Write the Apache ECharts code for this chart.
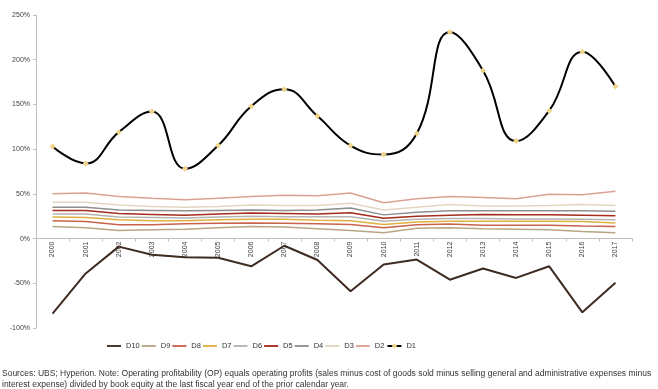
<!DOCTYPE html>
<html><head><meta charset="utf-8">
<script src="https://cdn.jsdelivr.net/npm/echarts@6/dist/echarts.min.js"></script>
<style>html,body{margin:0;padding:0;background:#fff}#c{width:658px;height:389px}</style>
</head><body><div id="c"></div>
<script>
var years = ['2000','2001','2002','2003','2004','2005','2006','2007','2008','2009','2010','2011','2012','2013','2014','2015','2016','2017'];
var yTicks = [-100,-50,0,50,100,150,200,250];
var D10 = [-84,-39,-9,-18,-21,-21.5,-31,-8,-24,-59,-29,-23.5,-46,-33.5,-44,-31,-82.5,-49.5];
var D9  = [13.5,12,9,10,10.5,12,13.5,13,11,9,6.5,11.5,12,11,10.5,10,7.8,6.5];
var D8  = [20,19,15.5,15.5,16.5,17,17.5,17,16.5,15.8,12.2,15.5,16.3,15,15,15,14,13.4];
var D7  = [24,23.5,21,20,20,21,21.5,21.5,20.5,20,15.8,18.5,19.5,19.5,19.5,19.3,19,17.5];
var D6  = [27.5,27.5,24,23.5,23,24,25,24.5,24.5,24.5,19.5,21.5,22.5,22.5,22,22,21.5,21];
var D5  = [31.5,31.5,28,27,26,27.5,28.5,28,27.5,29,22.7,25,26,27,26.5,26.5,26,25.5];
var D4  = [35,35,32,31.5,31,31.5,32,31.5,32,34.3,26.5,29.5,31,31,31,31,31,30.5];
var D3  = [40.5,40.5,37.5,36,35,36,37.5,37,37,39.5,32,35,38,36.5,36.5,37,38,37];
var D2  = [50,51,47,45,43.5,45,47,48.5,48,51,40,44.5,47,46,44.5,49.5,49,53];
var D1  = [103,84,119,142,78,104,148,167,137,104,94,117.5,231,188,109,143,209,170];

var names  = ['D10','D9','D8','D7','D6','D5','D4','D3','D2','D1'];
var values = [D10,D9,D8,D7,D6,D5,D4,D3,D2,D1];
var colors = ['#3d2b21','#b8a584','#c8634c','#e0b042','#b4b4b4','#a42b1d','#8e8e8e','#e3d6c0','#dba294','#000000'];
var widths = [2,1.5,1.5,1.5,1.5,1.5,1.5,1.5,1.5,2];

var FONT = 'Liberation Sans';
var Y_MIN = yTicks[0], Y_MAX = yTicks[yTicks.length-1];
var GRID_TOP = 15, GRID_BOTTOM = 61, H = 389;
var gridH = H - GRID_TOP - GRID_BOTTOM;
var zeroOffset = -gridH * (0 - Y_MIN) / (Y_MAX - Y_MIN);

var series = names.map(function(n,i){
  var s = {
    name:n, type:'line', data:values[i],
    lineStyle:{color:colors[i], width:widths[i]},
    itemStyle:{color:colors[i]},
    symbol:'none', z: i===9 ? 5 : (i===0 ? 4 : 2)
  };
  if(n==='D1'){
    s.smooth = 0.45;
    s.symbol = 'diamond';
    s.symbolSize = 6;
    s.showSymbol = true;
    s.itemStyle = {color:'#f0d48a', borderWidth:0};
  }
  return s;
});

var legendData = names.map(function(n){
  if(n==='D1') return {name:n};
  return {name:n, icon:'path://M0,0 H15 V2 H0 Z'};
});

var chart = echarts.init(document.getElementById('c'), null, {renderer:'canvas'});
chart.setOption({
  animation:false,
  textStyle:{fontFamily:FONT},
  grid:{left:36, right:26, top:GRID_TOP, bottom:GRID_BOTTOM, containLabel:false},
  title:{
    text:'Sources: UBS; Hyperion. Note: Operating profitability (OP) equals operating profits (sales minus cost of goods sold minus selling general and administrative expenses minus\ninterest expense) divided by book equity at the last fiscal year end of the prior calendar year.',
    left:2, top:368, padding:0,
    textStyle:{fontFamily:FONT, fontSize:8.5, fontWeight:'normal', color:'#333', lineHeight:11}
  },
  legend:{
    left:107, top:342, padding:0,
    itemWidth:14, itemHeight:7, itemGap:2,
    textStyle:{fontFamily:FONT, fontSize:7.5, color:'#333'},
    data:legendData
  },
  xAxis:{
    type:'category', data:years, boundaryGap:true,
    offset: zeroOffset,
    axisLine:{onZero:false, lineStyle:{color:'#bfbfbf', width:1}},
    axisTick:{show:true, length:3, lineStyle:{color:'#bfbfbf'}},
    axisLabel:{rotate:90, interval:0, fontSize:7, color:'#404040', margin:3, fontFamily:FONT}
  },
  yAxis:{
    type:'value', min:Y_MIN, max:Y_MAX, interval:50,
    splitLine:{show:false},
    axisLine:{show:true, lineStyle:{color:'#bfbfbf'}},
    axisTick:{show:true, length:3, lineStyle:{color:'#bfbfbf'}},
    axisLabel:{fontSize:7, color:'#404040', margin:6, fontFamily:FONT,
      formatter:function(v){return v+'%';}}
  },
  series:series
});
</script></body></html>
